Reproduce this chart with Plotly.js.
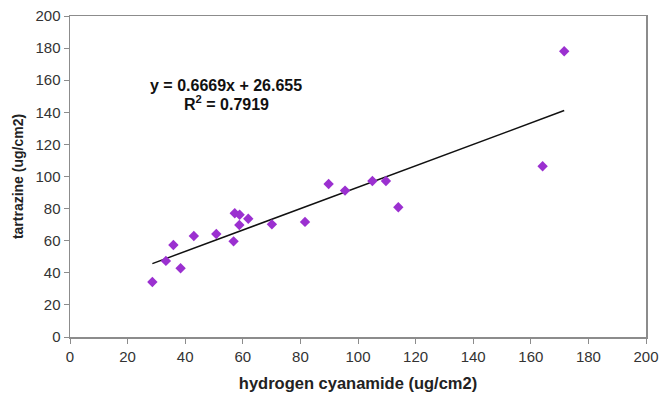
<!DOCTYPE html>
<html>
<head>
<meta charset="utf-8">
<script src="https://cdn.plot.ly/plotly-3.0.1.min.js"></script>
<style>html,body{margin:0;padding:0;background:#fff;}#chart{width:660px;height:396px;}</style>
</head>
<body>
<div id="chart"></div>
<script>
var cyanamide = [28.6, 33.3, 35.9, 38.4, 43.0, 50.8, 56.8, 57.2, 58.9, 58.8, 61.9, 70.1, 81.6, 89.8, 95.5, 105.0, 109.7, 114.0, 164.1, 171.6];
var tartrazine = [34.3, 47.4, 57.3, 42.8, 62.9, 64.2, 59.6, 77.1, 76.2, 69.8, 73.7, 70.2, 71.7, 95.3, 91.2, 97.2, 97.2, 80.8, 106.4, 178.0];
var slope = 0.6669;
var intercept = 26.655;
var rSquared = 0.7919;

var xMin = Math.min.apply(null, cyanamide);
var xMax = Math.max.apply(null, cyanamide);
var fitX = [xMin, xMax];
var fitY = fitX.map(function (x) { return slope * x + intercept; });

var traces = [
  {
    x: fitX, y: fitY, type: 'scatter', mode: 'lines',
    line: {color: '#111', width: 1.5},
    showlegend: false
  },
  {
    x: cyanamide, y: tartrazine, type: 'scatter', mode: 'markers',
    marker: {symbol: 'diamond', size: 8, color: '#9b30d0'},
    showlegend: false, cliponaxis: false
  }
];

var fontFam = 'Liberation Sans, Arial, sans-serif';
var axisBase = {
  showgrid: false, zeroline: false, showline: true, linecolor: '#8c8c8c', linewidth: 1.5,
  mirror: true, ticks: 'outside', ticklen: 5, tickcolor: '#8c8c8c', tickwidth: 1,
  tickfont: {family: fontFam, size: 15, color: '#333'}
};

var layout = {
  width: 660, height: 396,
  margin: {l: 70, r: 14, t: 16, b: 59},
  paper_bgcolor: '#fff', plot_bgcolor: '#fff',
  xaxis: Object.assign({}, axisBase, {
    range: [0, 200], dtick: 20, tick0: 0,
    title: {text: 'hydrogen cyanamide (ug/cm2)', standoff: 14,
      font: {family: fontFam, size: 16.5, color: '#222', weight: 'bold'}}
  }),
  yaxis: Object.assign({}, axisBase, {
    range: [0, 200], dtick: 20, tick0: 0,
    title: {text: 'tartrazine (ug/cm2)', standoff: 8,
      font: {family: fontFam, size: 14, color: '#222', weight: 'bold'}}
  }),
  annotations: [
    {x: 54.2, y: 157.0, xref: 'x', yref: 'y', showarrow: false,
      text: '<b>y = ' + slope + 'x + ' + intercept + '</b>',
      font: {family: fontFam, size: 16, color: '#111'}},
    {x: 54.2, y: 145.6, xref: 'x', yref: 'y', showarrow: false,
      text: '<b>R<sup>2</sup> = ' + rSquared + '</b>',
      font: {family: fontFam, size: 16, color: '#111'}}
  ]
};

Plotly.newPlot('chart', traces, layout, {displayModeBar: false, staticPlot: true});
</script>
</body>
</html>
